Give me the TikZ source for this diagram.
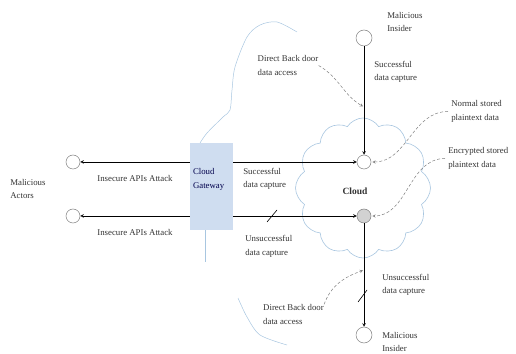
\documentclass[tikz,border=0pt]{standalone}
\usepackage{fontspec}
\setmainfont{Liberation Serif}
\usetikzlibrary{arrows, positioning, shapes.symbols}

\definecolor{gwblue}{RGB}{207,221,240}
\definecolor{arcblue}{RGB}{168,198,224}

\begin{document}
\begin{tikzpicture}[> = stealth, % arrow head style
                x = 1pt, y = 1pt, % work in pixels
                line width = 0.6pt
            ]

            \tikzstyle{party}=[draw = gray, circle, inner sep = 0pt,
            minimum size = 14pt, line width = 0.5pt]
            \tikzstyle{lbl}=[align = left, inner sep = 0pt, text = black!80,
            font = \fontsize{8.8}{13.5}\selectfont]
            \tikzstyle{hint}=[->, densely dashed, gray, line width = 0.5pt,
            shorten > = 1pt]
            \tikzstyle{puff}=[draw = arcblue, line width = 0.5pt]

            \useasboundingbox (0,0) rectangle (516,353);

            % the cloud and the light arcs
            \node[cloud, cloud puffs = 12, cloud puff arc = 115, aspect = 0.96,
            draw = arcblue, fill = white, minimum width = 135pt,
            minimum height = 140pt] (cloud) at (363,165) {};
            \draw[puff] plot[smooth] coordinates {(200,210) (207,220) (223,236)
                (230,243) (232,263) (235,286) (247,316) (260,328) (277,331)
                (297,321)};
            \draw[puff] (205,123) -- (205,91);
            \draw[puff] plot[smooth] coordinates {(238,55) (247,36) (260,18)
                (287,8)};

            \node[party] (actA) at (73,191) {}; \node[party] (actB) at (73,137)
            {}; \node[party] (nT) at (364,191) {}; \node[party, fill = gray!35]
            (nB) at (364,137) {}; \node[party, minimum size = 16pt] (insT) at
            (364,315) {}; \node[party, minimum size = 16pt] (insB) at (364,18)
            {};
            \coordinate (dT) at (364,246); \coordinate (dB) at (364,83);

            \draw[<->] (actA) -- (nT); \draw[<->] (actB) -- (nB);
            \draw[->] (insT) -- (nT); \draw[->] (nB) -- (insB);

            \node[fill = gwblue, minimum width = 43pt, minimum height = 87pt]
            (gw) at (211.5,166.5) {};
            \node[lbl, anchor = west, text = blue!30!black] (gwtxt) at
            ([shift = {(3,7)}]gw.west) {Cloud\\Gateway};

            % labels
            \node[lbl, anchor = west] (act) at (10,164) {Malicious\\Actors};
            \node[lbl] (apiA) at (135,175) {Insecure APIs Attack};
            \node[lbl] (apiB) at (135,121) {Insecure APIs Attack};
            \node[lbl, anchor = west] (okA) at (243,174) {Successful\\data capture};
            \node[lbl, anchor = west] (noA) at (245,106.5) {Unsuccessful\\data capture};
            \node[lbl, font = \fontsize{9.5}{11}\selectfont\bfseries] (cl) at
            (355,162) {Cloud};
            \node[lbl, anchor = west] (misT) at (387,331) {Malicious\\Insider};
            \node[lbl, anchor = west] (okB) at (374,281) {Successful\\data capture};
            \node[lbl, anchor = west] (noB) at (382,68) {Unsuccessful\\data capture};
            \node[lbl, anchor = south west] (misB) at (382,1) {Malicious\\Insider};
            \node[lbl] (dbT) at (288,287.5) {Direct Back door\\data access};
            \node[lbl] (dbB) at (293.5,38.5) {Direct Back door\\data access};
            \node[lbl, anchor = west] (nsd) at (451,241.5) {Normal stored\\plaintext data};
            \node[lbl, anchor = west] (esd) at (448,194.5) {Encrypted stored\\plaintext data};

            \path[hint] (dbT.east) edge[out = -30, in = 150] (dT);
            \path[hint] (dbB.north east) edge[out = 70, in = 200] (dB);
            \path[hint] ([xshift = -3pt]nsd.west) edge[out = 180, in = 0] (nT);
            \path[hint] ([xshift = -3pt]esd.west) edge[out = 180, in = 0] (nB);

            % cut marks
            \draw (267,131) -- (277,143); \draw (358,51) -- (367,63);
        \end{tikzpicture}
\end{document}
